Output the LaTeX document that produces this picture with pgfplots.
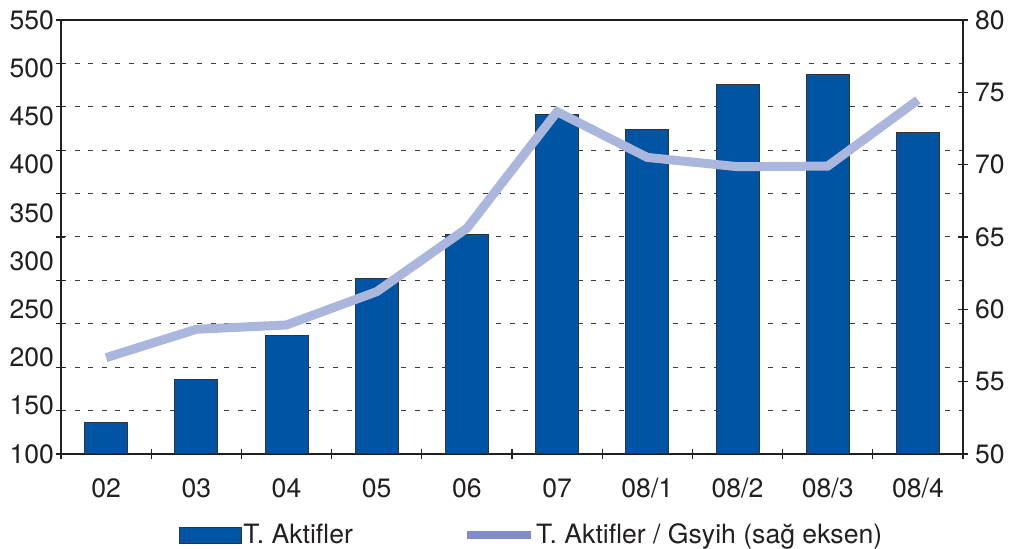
\documentclass[border=0pt]{standalone}
\usepackage{pgfplots}
\pgfplotsset{compat=1.18}
\usepackage{fontspec}
\setmainfont{TeX Gyre Heros}
\definecolor{barblue}{RGB}{0,84,164}
\definecolor{linecol}{RGB}{170,182,220}
\definecolor{gridgray}{RGB}{60,60,60}
\definecolor{txt}{RGB}{35,31,32}

\pgfplotsset{
  base/.style={
    scale only axis, width=451pt, height=217pt,
    xmin=-0.5, xmax=9.5,
    /pgf/number format/assume math mode=true,
    tick label style={font=\fontsize{13.3}{16}\selectfont, text=txt},
    axis line style={draw=txt, line width=0.6pt},
    tick style={draw=txt, line width=0.6pt},
  },
  barleg/.style={legend image code/.code={\draw[##1] (0pt,-4pt) rectangle (31pt,4pt);}},
  lineleg/.style={legend image code/.code={\draw[##1] (0pt,0pt) -- (32pt,0pt);}},
}

\begin{document}
\begin{tikzpicture}
\begin{axis}[base, name=main,
  ymin=100, ymax=550,
  xtick={0,...,9},
  xticklabels={02,03,04,05,06,07,08/1,08/2,08/3,08/4},
  minor xtick={-0.5,0.5,...,9.5},
  xtick pos=lower, ytick pos=left,
  every major x tick/.append style={draw=none},
  minor tick length=5pt, major tick length=4.5pt, tick align=center,
  xticklabel shift=6.5pt,
  ytick={100,145,...,550}, yticklabels={},
  ymajorgrids,
  grid style={draw=gridgray, line width=0.5pt, dash pattern=on 2.5pt off 4.3pt},
  extra y ticks={100,150,...,550},
  extra y tick labels={100,150,200,250,300,350,400,450,500,550},
  extra y tick style={major tick length=0pt, grid=none},
  legend columns=2,
  legend cell align=left,
  legend style={draw=none, fill=none, at={(0.13,-0.187)}, anchor=west,
    font=\fontsize{13.3}{16}\selectfont, text=txt, inner sep=0pt,
    nodes={inner sep=0.8pt},
    /tikz/every even column/.append style={column sep=54pt}},
]
\addplot[ybar, bar width=21.5pt, fill=barblue, draw=black!80, line width=0.5pt, barleg]
  coordinates {(0,132.5)(1,177.5)(2,222.4)(3,281.5)(4,327.8)
               (5,451.6)(6,436.7)(7,483.4)(8,493.7)(9,433.2)};
\addlegendentry{T. Aktifler}
\addlegendimage{color=linecol!85!blue!90!black, line width=4pt, lineleg}
\addlegendentry{T. Aktifler / Gsyih (sağ eksen)}
\end{axis}

\begin{axis}[base,
  ymin=50, ymax=80,
  ytick={50,55,...,80},
  axis y line*=right, axis x line=none,
  tick align=center, major tick length=5pt,
]
\addplot[color=linecol, line width=4.5pt]
  coordinates {(0,56.66)(1,58.62)(2,58.92)(3,61.22)(4,65.6)
               (5,73.66)(6,70.5)(7,69.86)(8,69.9)(9,74.47)};
\end{axis}

\pgfresetboundingbox
\path ([xshift=-30.5pt,yshift=-47.5pt]main.south west)
  rectangle ([xshift=25.5pt,yshift=10pt]main.north east);
\end{tikzpicture}
\end{document}
